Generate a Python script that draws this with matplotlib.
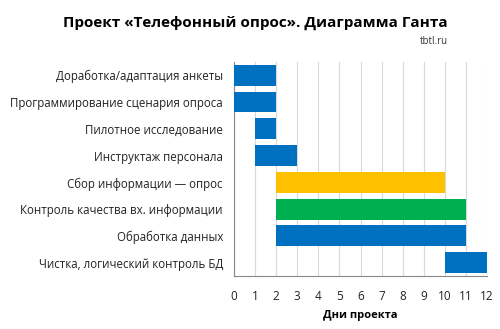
import matplotlib.pyplot as plt
import numpy as np

plt.rcParams['font.family'] = ['Open Sans', 'DejaVu Sans']

tasks = ["Доработка/адаптация анкеты",
         "Программирование сценария опроса",
         "Пилотное исследование",
         "Инструктаж персонала",
         "Сбор информации — опрос",
         "Контроль качества вх. информации",
         "Обработка данных",
         "Чистка, логический контроль БД"]
start = [0, 0, 1, 1, 2, 2, 2, 10]
duration = [2, 2, 1, 2, 8, 9, 9, 2]
colors = ["#0070C0", "#0070C0", "#0070C0", "#0070C0",
          "#FFC000", "#00B050", "#0070C0", "#0070C0"]

fig = plt.figure(figsize=(5, 3.29), dpi=100)
ax = fig.add_axes([0.468, 0.161, 0.506, 0.651])

y = np.arange(len(tasks))
ax.barh(y, duration, left=start, color=colors, height=0.78, zorder=3)
ax.set_ylim(len(tasks) - 0.5, -0.5)
ax.set_xlim(0, 12)
ax.set_xticks(range(13))
ax.set_yticks(y)
ax.set_yticklabels(tasks, fontsize=8.3, color="#222222")
ax.tick_params(axis='x', labelsize=8.5, colors="#222222", length=0, pad=10)
ax.tick_params(axis='y', length=0, pad=8)
ax.grid(axis='x', color="#d9d9d9", linewidth=0.8, zorder=0)
for s in ['top', 'right']:
    ax.spines[s].set_visible(False)
for s in ['left', 'bottom']:
    ax.spines[s].set_color("#888888")
    ax.spines[s].set_linewidth(0.8)
ax.set_xlabel("Дни проекта", fontsize=8, fontweight='bold', labelpad=5)

fig.text(0.51, 0.93, "Проект «Телефонный опрос». Диаграмма Ганта",
         ha='center', va='center', fontsize=11, fontweight='bold')
fig.text(0.895, 0.875, "tbtl.ru", ha='right', va='center', fontsize=7, color="#333333")

fig.savefig("out.png", dpi=100)
